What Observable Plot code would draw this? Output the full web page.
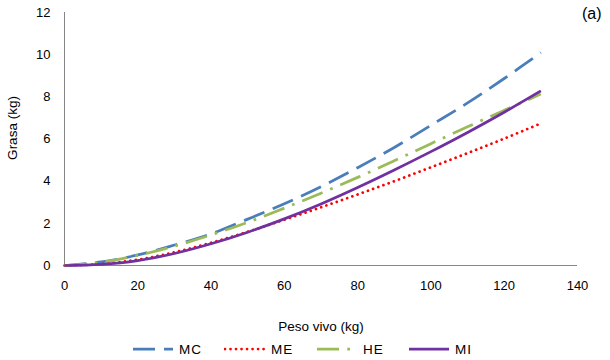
<!DOCTYPE html>
<html><head><meta charset="utf-8">
<script src="https://cdn.jsdelivr.net/npm/d3@7"></script>
<script src="https://cdn.jsdelivr.net/npm/@observablehq/plot@0.6"></script>
<style>
body{margin:0;background:#fff;font-family:"Liberation Sans",Arial,sans-serif;}
#wrap{position:relative;width:610px;height:360px;overflow:hidden;}
#tag{position:absolute;left:582px;top:5px;font-size:16px;color:#000;}
#legend{position:absolute;left:132px;top:339px;height:20px;display:flex;align-items:center;font-size:13.5px;color:#000;}
.item{display:flex;align-items:center;width:92px;}
.item svg{margin-right:5px;}
.item span{letter-spacing:1px;}
</style></head><body>
<div id="wrap"><div id="chart"></div><div id="legend"></div><div id="tag">(a)</div></div>
<script>
const pesoVivo = [0,10,20,30,40,50,60,70,80,90,100,110,120,130];
const MC = [0,0.17,0.5,0.97,1.5,2.2,2.93,3.74,4.64,5.6,6.65,7.71,8.87,10.1];
const ME = [0,0.07,0.28,0.63,1.08,1.6,2.17,2.76,3.37,4.0,4.66,5.33,6.02,6.74];
const HE = [0,0.15,0.48,0.92,1.45,2.05,2.72,3.43,4.18,4.97,5.78,6.58,7.36,8.13];
const MI = [0,0.05,0.23,0.57,1.03,1.58,2.21,2.92,3.7,4.53,5.4,6.31,7.27,8.28];
const seriesNames = ["MC","ME","HE","MI"];
const seriesValues = [MC,ME,HE,MI];
const seriesColors = ["#4A7EBB","#FF0000","#9BBB59","#7030A0"];
const seriesDash = ["22,9","0.01,5.5","22,8.25,2.75,8.25",null];
const seriesCap = ["butt","round","butt","butt"];
const xTicks = [0,20,40,60,80,100,120,140];
const yTicks = [0,2,4,6,8,10,12];
const xLabel = "Peso vivo (kg)";
const yLabel = "Grasa (kg)";

const lineMarks = seriesNames.map((name,i)=>Plot.line(
  pesoVivo.map((x,j)=>({x, y: seriesValues[i][j], serie: name})),
  {x:"x", y:"y", stroke: seriesColors[i], strokeWidth: 2.75,
   strokeDasharray: seriesDash[i], strokeLinecap: seriesCap[i], curve:"catmull-rom"}));

const chart = Plot.plot({
  width: 610, height: 338,
  marginLeft: 64, marginRight: 33, marginTop: 12, marginBottom: 73,
  style: {fontFamily: "Liberation Sans, Arial, sans-serif", fontSize: "13px", color: "#000", background: "#fff"},
  x: {domain: [0,140]},
  y: {domain: [0,12]},
  marks: [
    Plot.ruleX([0], {stroke: "#868686", strokeWidth: 1}),
    Plot.ruleY([0], {stroke: "#868686", strokeWidth: 1}),
    Plot.axisX({ticks: xTicks, tickSize: 0, tickPadding: 15, label: null, fill:"#000"}),
    Plot.axisY({ticks: yTicks, tickSize: 0, tickPadding: 14, label: null, fill:"#000"}),
    Plot.text([xLabel], {frameAnchor: "bottom", dy: 61, textAnchor: "middle", lineAnchor: "middle", fill:"#000", fontSize: 13.5}),
    Plot.text([yLabel], {frameAnchor: "left", rotate: -90, dx: -52, dy: -11, textAnchor: "middle", lineAnchor: "middle", fill:"#000", fontSize: 13.5}),
    ...lineMarks
  ]
});
document.getElementById("chart").appendChild(chart);

const legend = document.getElementById("legend");
seriesNames.forEach((name,i)=>{
  const item = document.createElement("div");
  item.className = "item";
  const ns = "http://www.w3.org/2000/svg";
  const s = document.createElementNS(ns,"svg");
  s.setAttribute("width","42"); s.setAttribute("height","10");
  const l = document.createElementNS(ns,"line");
  l.setAttribute("x1","1"); l.setAttribute("x2","41"); l.setAttribute("y1","5"); l.setAttribute("y2","5");
  l.setAttribute("stroke", seriesColors[i]); l.setAttribute("stroke-width","2.75");
  if (seriesDash[i]) l.setAttribute("stroke-dasharray", seriesDash[i]);
  l.setAttribute("stroke-linecap", seriesCap[i]);
  s.appendChild(l);
  item.appendChild(s);
  const t = document.createElement("span");
  t.textContent = name;
  item.appendChild(t);
  legend.appendChild(item);
});
</script>
</body></html>
